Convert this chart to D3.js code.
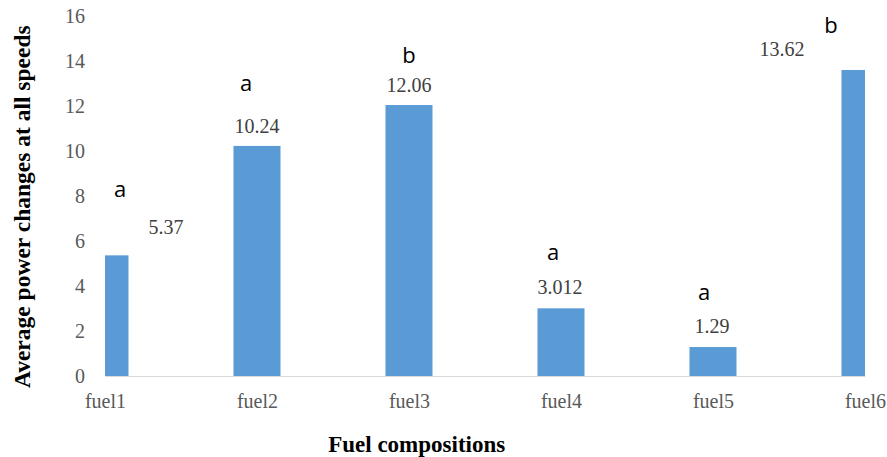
<!DOCTYPE html>
<html>
<head>
<meta charset="utf-8">
<script src="https://cdn.jsdelivr.net/npm/d3@7"></script>
<style>
  html, body { margin: 0; padding: 0; background: #ffffff; }
  svg { display: block; }
</style>
</head>
<body>
<svg id="chart" width="887" height="457"></svg>
<script>
// ---- data ----
const categories = ["fuel1", "fuel2", "fuel3", "fuel4", "fuel5", "fuel6"];
const values = [5.37, 10.24, 12.06, 3.012, 1.29, 13.62];
const valueLabels = ["5.37", "10.24", "12.06", "3.012", "1.29", "13.62"];
const groupLetters = ["a", "a", "b", "a", "a", "b"];
const yTicks = [0, 2, 4, 6, 8, 10, 12, 14, 16];

// ---- layout (manual label offsets relative to bar centre / bar top, px) ----
const valueDx = [61, 0, 0, -1, -1, -83];
const valueDy = [-21, -13, -13, -14, -14, -14];
const letterDx = [15, -11, 0, -8, -9, -34];
const letterDy = [-58, -55, -42, -48, -47, -37];

const svg = d3.select("#chart");
const plotLeft = 105, plotRight = 865, plotTop = 16.5, plotBottom = 376;
const barW = 47;

const x = d3.scalePoint().domain(categories).range([plotLeft, plotRight]);
const y = d3.scaleLinear().domain([0, 16]).range([plotBottom, plotTop]);

svg.append("defs").append("clipPath").attr("id", "plotclip")
  .append("rect").attr("x", plotLeft).attr("y", 0).attr("width", plotRight - plotLeft).attr("height", plotBottom + 1);

// y axis labels only
const yAxis = svg.append("g").attr("transform", `translate(${plotLeft},0)`)
  .call(d3.axisLeft(y).tickValues(yTicks).tickSize(0).tickPadding(20));
yAxis.select(".domain").remove();
yAxis.selectAll("text")
  .attr("font-family", "'Liberation Serif', 'Times New Roman', serif")
  .attr("font-size", 20)
  .attr("fill", "#595959");

// bars
svg.append("g").attr("clip-path", "url(#plotclip)")
  .selectAll("rect").data(values).join("rect")
  .attr("x", (d, i) => x(categories[i]) - barW / 2)
  .attr("y", d => y(d))
  .attr("width", barW)
  .attr("height", d => y(0) - y(d))
  .attr("fill", "#5B9BD5");

// x axis
const xAxis = svg.append("g").attr("transform", `translate(0,${plotBottom})`)
  .call(d3.axisBottom(x).tickSize(0).tickSizeOuter(0).tickPadding(18));
xAxis.select(".domain").attr("stroke", "#d9d9d9").attr("stroke-width", 1);
xAxis.selectAll("text")
  .attr("font-family", "'Liberation Serif', 'Times New Roman', serif")
  .attr("font-size", 20)
  .attr("fill", "#595959");

// value labels
svg.append("g").selectAll("text").data(values).join("text")
  .attr("x", (d, i) => x(categories[i]) + valueDx[i])
  .attr("y", (d, i) => y(d) + valueDy[i])
  .attr("text-anchor", "middle")
  .attr("font-family", "'Liberation Serif', 'Times New Roman', serif")
  .attr("font-size", 20)
  .attr("fill", "#404040")
  .text((d, i) => valueLabels[i]);

// group letters
svg.append("g").selectAll("text").data(values).join("text")
  .attr("x", (d, i) => x(categories[i]) + letterDx[i])
  .attr("y", (d, i) => y(d) + letterDy[i])
  .attr("text-anchor", "middle")
  .attr("font-family", "'Open Sans', 'Noto Sans', sans-serif")
  .attr("font-size", 22)
  .attr("fill", "#000000")
  .text((d, i) => groupLetters[i]);

// axis titles
svg.append("text")
  .attr("x", 416.7).attr("y", 451.7)
  .attr("text-anchor", "middle")
  .attr("font-family", "'Liberation Serif', 'Times New Roman', serif")
  .attr("font-weight", "bold")
  .attr("font-size", 23)
  .attr("fill", "#000000")
  .text("Fuel compositions");

svg.append("text")
  .attr("transform", "translate(30,206.7) rotate(-90)")
  .attr("text-anchor", "middle")
  .attr("font-family", "'Liberation Serif', 'Times New Roman', serif")
  .attr("font-weight", "bold")
  .attr("font-size", 23.5)
  .attr("fill", "#000000")
  .text("Average power changes at all speeds");
</script>
</body>
</html>
